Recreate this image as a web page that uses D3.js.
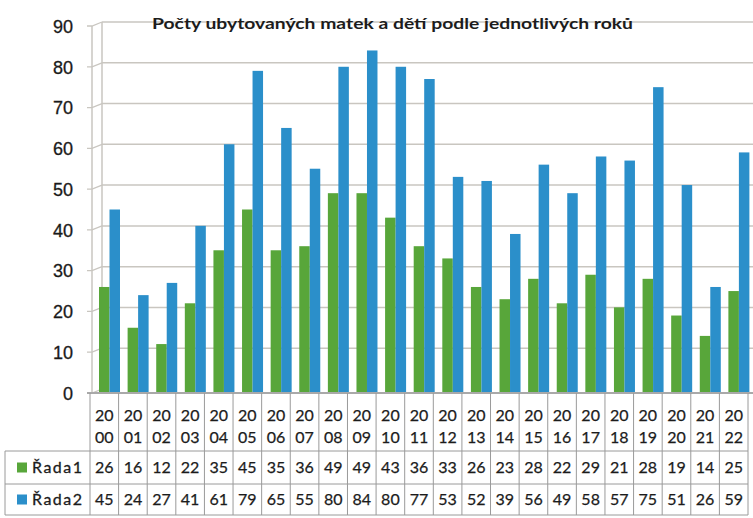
<!DOCTYPE html>
<html>
<head>
<meta charset="utf-8">
<script src="https://cdn.jsdelivr.net/npm/d3@7"></script>
<style>
  html, body { margin: 0; padding: 0; background: #fff; }
  svg { display: block; }
</style>
</head>
<body>
<svg id="chart" width="753" height="518"></svg>
<script>
const title = 'Počty ubytovaných matek a dětí podle jednotlivých roků';
const years = ['2000', '2001', '2002', '2003', '2004', '2005', '2006', '2007', '2008', '2009', '2010', '2011',
    '2012', '2013', '2014', '2015', '2016', '2017', '2018', '2019', '2020', '2021', '2022'];
const seriesNames = ['Řada1', 'Řada2'];
const rada1 = [26, 16, 12, 22, 35, 45, 35, 36, 49, 49, 43, 36, 33, 26, 23, 28, 22, 29, 21, 28, 19, 14, 25];
const rada2 = [45, 24, 27, 41, 61, 79, 65, 55, 80, 84, 80, 77, 53, 52, 39, 56, 49, 58, 57, 75, 51, 26, 59];
const yTicks = [0, 10, 20, 30, 40, 50, 60, 70, 80, 90];
const colors = ['#58a63a', '#2b8fca'];

const W = 753, H = 518;
const DEPTH_X = 10, DEPTH_Y = 4;   // 3D back-wall shift
const TABLE_FONT = 'Lato, "Open Sans", sans-serif';

const svg = d3.select('#chart');

const x = d3.scaleBand().domain(years).range([90, 748]).padding(0);
const xSub = d3.scaleBand().domain(seriesNames).range([0, 21]);
const y = d3.scaleLinear().domain([0, 90]).range([393, 26]);

const values = [rada1, rada2];
const gridColor = '#c9c6c0';

// back wall gridlines
const grid = svg.append('g');
grid.selectAll('line.grid')
    .data(yTicks.filter(t => t > 0))
    .enter().append('line')
    .attr('x1', 92 + DEPTH_X).attr('x2', W)
    .attr('y1', d => y(d) - DEPTH_Y).attr('y2', d => y(d) - DEPTH_Y)
    .attr('stroke', gridColor).attr('stroke-width', 1.5);

// depth connectors + front ticks
grid.selectAll('path.tick')
    .data(yTicks)
    .enter().append('path')
    .attr('d', d => `M87,${y(d)} L92,${y(d)} L${92 + DEPTH_X},${y(d) - DEPTH_Y}`)
    .attr('fill', 'none')
    .attr('stroke', gridColor).attr('stroke-width', 1.3);

// front axis line and back wall edge
grid.append('line')
    .attr('x1', 92).attr('x2', 92)
    .attr('y1', y(90)).attr('y2', y(0))
    .attr('stroke', gridColor).attr('stroke-width', 1.5);
grid.append('line')
    .attr('x1', 92 + DEPTH_X).attr('x2', 92 + DEPTH_X)
    .attr('y1', y(90) - DEPTH_Y).attr('y2', y(0) - DEPTH_Y)
    .attr('stroke', gridColor).attr('stroke-width', 1.5);

// title (sits over the top gridline)
svg.append('text')
    .attr('x', 152).attr('y', 29)
    .attr('font-family', 'Lato, "Open Sans", sans-serif')
    .attr('font-weight', 'bold')
    .attr('font-size', '16px')
    .attr('fill', '#1c1c1c')
    .attr('textLength', 481)
    .attr('lengthAdjust', 'spacingAndGlyphs')
    .text(title);

// y labels
svg.append('g').selectAll('text')
    .data(yTicks)
    .enter().append('text')
    .attr('x', 73).attr('y', d => y(d) + 2)
    .attr('text-anchor', 'end')
    .attr('dominant-baseline', 'middle')
    .attr('font-family', '"Liberation Sans", Arial, sans-serif')
    .attr('font-size', '18px')
    .attr('fill', '#1a1a1a')
    .attr('stroke', '#1a1a1a')
    .attr('stroke-width', 0.3)
    .text(d => d);

// bars
const groups = svg.append('g').selectAll('g')
    .data(years)
    .enter().append('g')
    .attr('transform', d => `translate(${x(d) + 9},0)`);

groups.selectAll('rect')
    .data((d, i) => seriesNames.map((s, k) => ({ s, k, v: values[k][i] })))
    .enter().append('rect')
    .attr('x', d => xSub(d.s))
    .attr('width', xSub.bandwidth())
    .attr('y', d => y(d.v))
    .attr('height', d => y(0) - y(d.v))
    .attr('fill', d => colors[d.k]);

// floor
svg.append('line')
    .attr('x1', 87).attr('x2', W)
    .attr('y1', y(0)).attr('y2', y(0))
    .attr('stroke', '#a9a9a9').attr('stroke-width', 2);

// data table
const table = svg.append('g');
const borderColor = '#9a9a9a';
const rowTop = [451, 484];
const rowBottom = 515;

// column dividers
table.selectAll('line.col')
    .data(years.concat(['end']))
    .enter().append('line')
    .attr('x1', d => d === 'end' ? x.range()[1] : x(d))
    .attr('x2', d => d === 'end' ? x.range()[1] : x(d))
    .attr('y1', y(0)).attr('y2', rowBottom)
    .attr('stroke', borderColor).attr('stroke-width', 1);

// row lines
table.selectAll('line.row')
    .data(rowTop.concat([rowBottom]))
    .enter().append('line')
    .attr('x1', 5).attr('x2', x.range()[1])
    .attr('y1', d => d).attr('y2', d => d)
    .attr('stroke', borderColor).attr('stroke-width', 1);
table.append('line')
    .attr('x1', 5).attr('x2', 5)
    .attr('y1', rowTop[0]).attr('y2', rowBottom)
    .attr('stroke', borderColor).attr('stroke-width', 1);

// header years in two lines
const header = table.selectAll('g.head')
    .data(years)
    .enter().append('g')
    .attr('transform', d => `translate(${x(d) + x.bandwidth() / 2},0)`);
header.append('text')
    .attr('y', 417)
    .text(d => d.slice(0, 2));
header.append('text')
    .attr('y', 439)
    .text(d => d.slice(2));

// values
values.forEach((vals, k) => {
    table.selectAll(null)
        .data(vals)
        .enter().append('text')
        .attr('x', (d, i) => x(years[i]) + x.bandwidth() / 2)
        .attr('y', (rowTop[k] + (k ? rowBottom : rowTop[1])) / 2 + 1)
        .text(d => d);
});

table.selectAll('text')
    .attr('text-anchor', 'middle')
    .attr('dominant-baseline', 'middle')
    .attr('font-family', TABLE_FONT)
    .attr('font-size', '16px')
    .attr('fill', '#1c1c1c')
    .attr('stroke', '#1c1c1c')
    .attr('stroke-width', 0.25);

// legend keys
const legend = table.selectAll('g.key')
    .data(seriesNames)
    .enter().append('g')
    .attr('transform', (d, k) => `translate(0,${(rowTop[k] + (k ? rowBottom : rowTop[1])) / 2})`);
legend.append('rect')
    .attr('x', 17).attr('y', -5)
    .attr('width', 10).attr('height', 10)
    .attr('fill', (d, k) => colors[k]);
legend.append('text')
    .attr('x', 32).attr('y', 1)
    .attr('dominant-baseline', 'middle')
    .attr('font-family', TABLE_FONT)
    .attr('font-size', '16px')
    .attr('letter-spacing', '1.5px')
    .attr('fill', '#1c1c1c')
    .attr('stroke', '#1c1c1c')
    .attr('stroke-width', 0.3)
    .text(d => d);
</script>
</body>
</html>
